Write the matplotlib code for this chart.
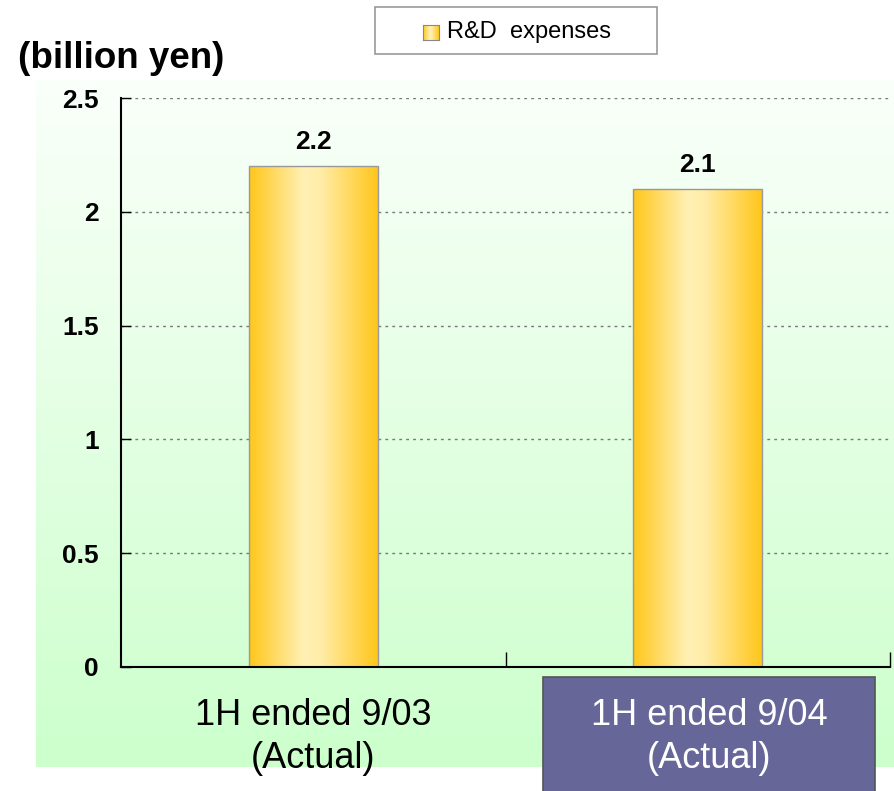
import numpy as np
import matplotlib
matplotlib.use('Agg')
import matplotlib.pyplot as plt
from matplotlib.patches import Rectangle
from matplotlib.colors import LinearSegmentedColormap
from matplotlib.transforms import blended_transform_factory

# data
categories = ['1H ended 9/03\n(Actual)', '1H ended 9/04\n(Actual)']
rd_expenses = [2.2, 2.1]
value_labels = ['2.2', '2.1']
yticks = [0, 0.5, 1, 1.5, 2, 2.5]
ytick_labels = ['0', '0.5', '1', '1.5', '2', '2.5']
series_name = 'R&D  expenses'
ylabel = '(billion yen)'

W, H = 894, 791
plt.rcParams['font.family'] = ['Liberation Sans', 'DejaVu Sans']
fig = plt.figure(figsize=(W / 100, H / 100), dpi=100)
fig.patch.set_facecolor('white')

def fx(px):
    return px / W

def fy(py):
    return 1 - py / H

# green gradient panel behind the chart
bg = fig.add_axes([fx(36), fy(767), fx(894) - fx(36), fy(80) - fy(767)], zorder=0)
green = LinearSegmentedColormap.from_list('g', ['#ccffcc', '#fafffa'])
bg.imshow(np.linspace(0, 1, 256).reshape(-1, 1), aspect='auto', cmap=green,
          origin='lower', extent=[0, 1, 0, 1])
bg.axis('off')

ax = fig.add_axes([fx(121), fy(667), fx(890) - fx(121), fy(98) - fy(667)], zorder=1)
ax.set_facecolor('none')

x = np.arange(len(categories))
bar_w = 0.335
bars = ax.bar(x, rd_expenses, width=bar_w, facecolor='none', edgecolor='#999999',
              linewidth=1.0, zorder=3)

# horizontal gold gradient inside each bar
gold = LinearSegmentedColormap.from_list(
    'gold', [(0, '#ffc61a'), (0.42, '#fff0b3'), (0.55, '#ffedaa'), (1, '#ffc61a')])
grad = np.linspace(0, 1, 256).reshape(1, -1)
for b in bars:
    x0, y0 = b.get_x(), b.get_y()
    im = ax.imshow(grad, aspect='auto', cmap=gold,
                   extent=[x0, x0 + b.get_width(), y0, y0 + b.get_height()], zorder=2)
    im.set_clip_path(b)

for b, lab in zip(bars, value_labels):
    ax.annotate(lab, (b.get_x() + b.get_width() / 2, b.get_height()),
                xytext=(0, 9), textcoords='offset points', ha='center', va='bottom',
                fontsize=19, fontweight='bold')

ax.set_xlim(-0.5, len(categories) - 0.5)
ax.set_ylim(0, 2.5)
ax.set_yticks(yticks)
ax.set_yticklabels(ytick_labels, fontsize=19, fontweight='bold')
ax.yaxis.grid(True, linestyle=(0, (2, 3)), color='#777777', linewidth=1.0, zorder=1)
ax.set_axisbelow(True)
ax.set_xticks(x + 0.5)
ax.set_xticklabels([])
ax.tick_params(axis='x', direction='in', length=11, width=1.0)
ax.tick_params(axis='y', direction='in', length=7, width=1.0, pad=16)
for s in ['top', 'right']:
    ax.spines[s].set_visible(False)
for s in ['left', 'bottom']:
    ax.spines[s].set_linewidth(1.5)
    ax.spines[s].set_zorder(4)

# category labels, the last one boxed
tr = blended_transform_factory(ax.transData, fig.transFigure)
box_left, box_right = 0.5975, 1.461
ax.add_patch(Rectangle((box_left, fy(800)), box_right - box_left, fy(677) - fy(800),
                       transform=tr, facecolor='#666699', edgecolor='#555555',
                       linewidth=1.2, zorder=5, clip_on=False))
for i, cat in enumerate(categories):
    last = i == len(categories) - 1
    xc = (box_left + box_right) / 2 if last else i
    ax.text(xc, fy(698), cat, transform=tr, ha='center', va='top', fontsize=26,
            linespacing=1.3, color='white' if last else 'black', zorder=6)

fig.text(fx(18), fy(58), ylabel, ha='left', va='center', fontsize=26.5, fontweight='bold')

# legend box
fig.patches.append(Rectangle((fx(375), fy(54)), fx(657) - fx(375), fy(7) - fy(54),
                             transform=fig.transFigure, facecolor='white',
                             edgecolor='#999999', linewidth=1.2, zorder=2))
lax = fig.add_axes([fx(423), fy(40), fx(16), fy(25) - fy(40)], zorder=3)
lax.imshow(grad, aspect='auto', cmap=gold, extent=[0, 1, 0, 1])
lax.set_xticks([])
lax.set_yticks([])
for s in lax.spines.values():
    s.set_edgecolor('#888888')
fig.text(fx(447), fy(32), series_name, ha='left', va='center', fontsize=17, zorder=4)

fig.savefig('out.png', dpi=100)
